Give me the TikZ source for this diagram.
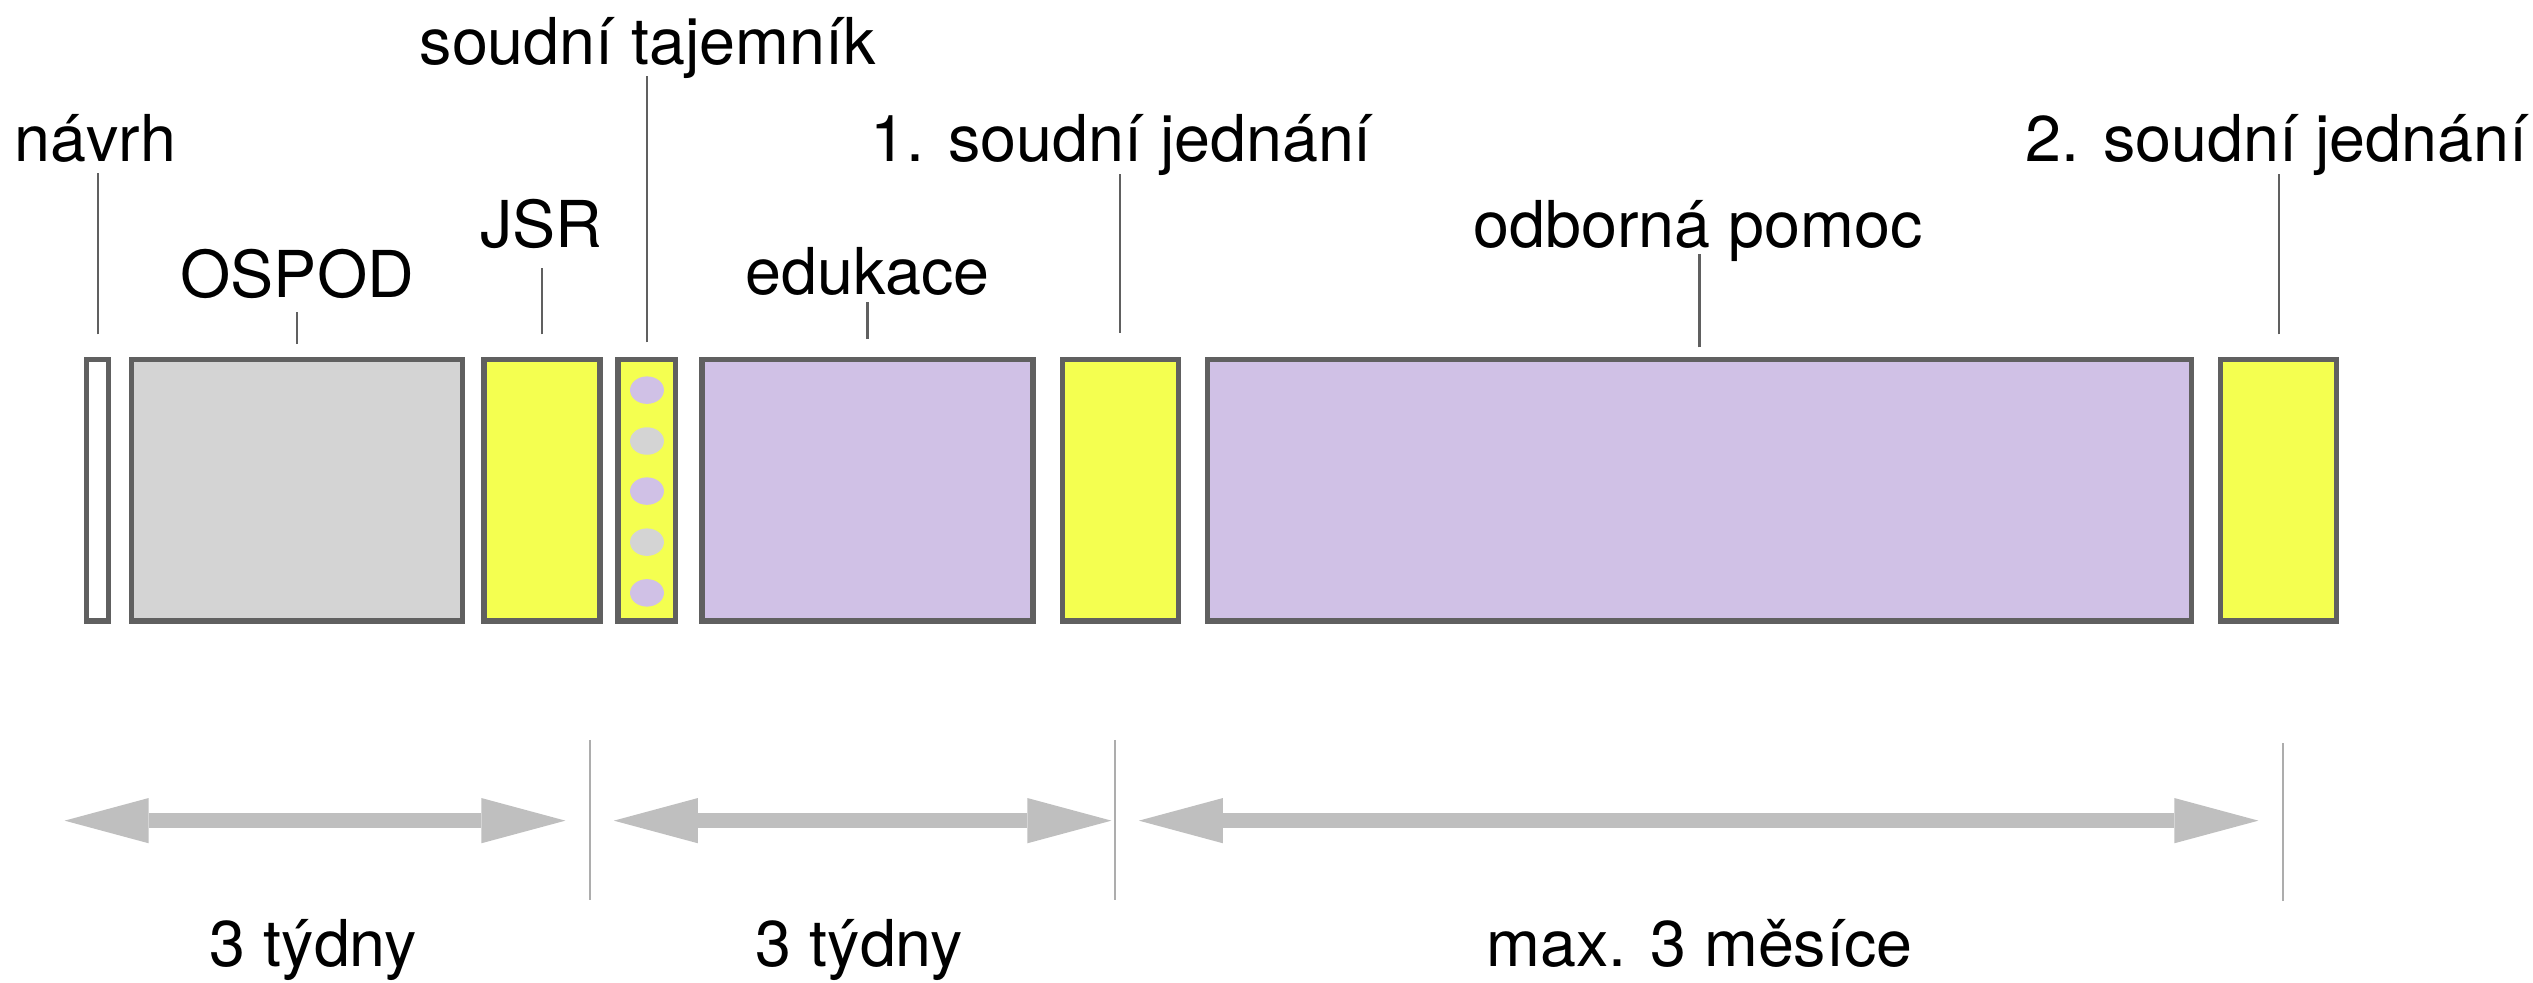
\documentclass[tikz,border=0pt]{standalone}
\usepackage{fontspec}
\setmainfont{TeX Gyre Heros}
\usetikzlibrary{arrows.meta}
\definecolor{bordergray}{HTML}{606060}
\definecolor{boxgray}{HTML}{D4D4D4}
\definecolor{boxyellow}{HTML}{F4FF50}
\definecolor{boxlav}{HTML}{D0C1E6}
\definecolor{arrowgray}{HTML}{BFBFBF}
\definecolor{sepgray}{HTML}{ADADAD}
\begin{document}
\begin{tikzpicture}[x=1pt,y=-1pt,
  phase/.style={draw=bordergray,line width=3.2pt,inner sep=0pt,minimum height=161.8pt},
  lbl/.style={font=\fontsize{40}{48}\selectfont,anchor=base,inner sep=0pt},
  tick/.style={draw=bordergray,line width=1.3pt},
  sep/.style={draw=sepgray,line width=1.3pt},
  span/.style={draw=arrowgray,line width=9pt,
    {Triangle[length=52pt,width=28pt,line width=0pt]}-{Triangle[length=52pt,width=28pt,line width=0pt]}},
  dotl/.style={fill=boxlav,draw=none},
  dotg/.style={fill=boxgray,draw=none}]
\useasboundingbox (0,0) rectangle (1568,608);

% boxes
\node[phase,fill=white,minimum width=13.8pt] (navrh) at (60.5,303.5) {};
\node[phase,fill=boxgray,minimum width=204.8pt] (ospod) at (184,303.5) {};
\node[phase,fill=boxyellow,minimum width=71.8pt] (jsr) at (335.5,303.5) {};
\node[phase,fill=boxyellow,minimum width=35.8pt] (taj) at (400.5,303.5) {};
\node[phase,fill=boxlav,minimum width=204.8pt] (eduk) at (537,303.5) {};
\node[phase,fill=boxyellow,minimum width=71.8pt] (jedn1) at (693.5,303.5) {};
\node[phase,fill=boxlav,minimum width=608.8pt] (odb) at (1052,303.5) {};
\node[phase,fill=boxyellow,minimum width=71.8pt] (jedn2) at (1410.5,303.5) {};

% dots in the court secretary box
\fill[dotl] (taj.center |- 0,241.5) ellipse (10.5pt and 8.5pt);
\fill[dotg] (taj.center |- 0,273) ellipse (10.5pt and 8.5pt);
\fill[dotl] (taj.center |- 0,304) ellipse (10.5pt and 8.5pt);
\fill[dotg] (taj.center |- 0,335.6) ellipse (10.5pt and 8.5pt);
\fill[dotl] (taj.center |- 0,367) ellipse (10.5pt and 8.5pt);

% labels
\node[lbl] (lnavrh) at (59,100) {návrh};
\node[lbl] (lospod) at (184,184) {OSPOD};
\node[lbl] (ljsr) at (335,153) {JSR};
\node[lbl] (ltaj) at (401,40) {soudní tajemník};
\node[lbl] (leduk) at (537,182) {edukace};
\node[lbl] (ljedn1) at (694,100) {1. soudní jednání};
\node[lbl] (lodb) at (1051,153) {odborná pomoc};
\node[lbl] (ljedn2) at (1409,100) {2. soudní jednání};

% ticks
\draw[tick] (navrh.north |- 0,207) -- (navrh.north |- 0,107);
\draw[tick] (ospod.north |- 0,213) -- (ospod.north |- 0,193);
\draw[tick] (jsr.north |- 0,207) -- (jsr.north |- 0,166);
\draw[tick] (taj.north |- 0,212) -- (taj.north |- 0,47);
\draw[tick] (eduk.north |- 0,210) -- (eduk.north |- 0,187);
\draw[tick] (jedn1.north |- 0,206) -- (jedn1.north |- 0,108);
\draw[tick] (odb.north |- 0,215) -- (odb.north |- 0,157);
\draw[tick] (jedn2.north |- 0,207) -- (jedn2.north |- 0,108);

% separators
\coordinate (s1t) at (365,458); \coordinate (s1b) at (365,557);
\coordinate (s2t) at (690,458); \coordinate (s2b) at (690,557);
\coordinate (s3t) at (1413,460); \coordinate (s3b) at (1413,558);
\draw[sep] (s1t) -- (s1b);
\draw[sep] (s2t) -- (s2b);
\draw[sep] (s3t) -- (s3b);

% spans
\coordinate (a1l) at (40,508); \coordinate (a1r) at (350,508);
\coordinate (a2l) at (380,508); \coordinate (a2r) at (688,508);
\coordinate (a3l) at (705,508); \coordinate (a3r) at (1398,508);
\draw[span] (a1l) -- (a1r);
\draw[span] (a2l) -- (a2r);
\draw[span] (a3l) -- (a3r);

\node[lbl] (d1) at (194,598) {3 týdny};
\node[lbl] (d2) at (532,598) {3 týdny};
\node[lbl] (d3) at (1052,598) {max. 3 měsíce};
\end{tikzpicture}
\end{document}
